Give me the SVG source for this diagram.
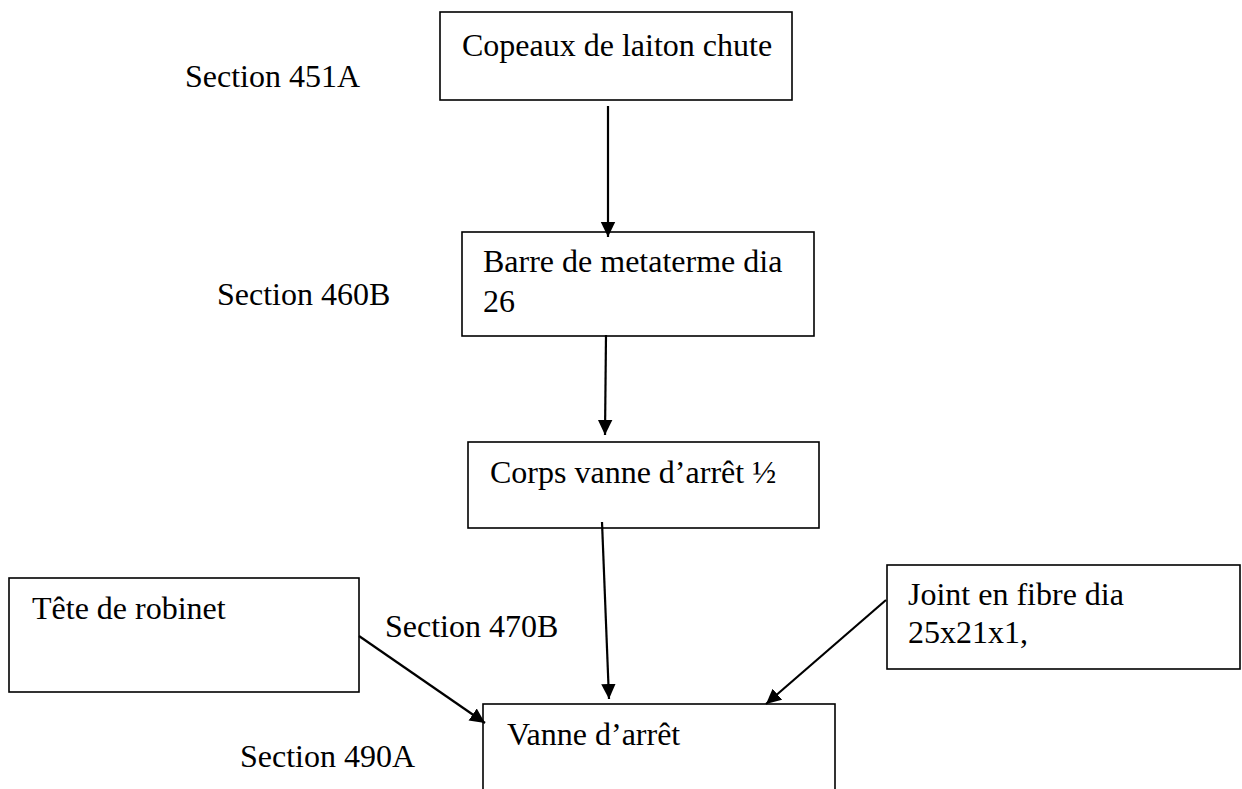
<svg xmlns="http://www.w3.org/2000/svg" width="1242" height="789" viewBox="0 0 1242 789">
  <style>
    .box { fill: #fff; stroke: #000; stroke-width: 1.6; }
    .lbl { font-family: "Liberation Serif", "Times New Roman", serif; font-size: 32px; fill: #000; }
    .conn { stroke: #000; stroke-width: 2.2; fill: none; marker-end: url(#arrow); }
  </style>
  <defs>
    <marker id="arrow" markerUnits="userSpaceOnUse" markerWidth="16" markerHeight="16" viewBox="0 0 16 16" refX="15" refY="8" orient="auto">
      <path d="M0,0.8 L15,8 L0,15.2 Z" fill="#000"/>
    </marker>
  </defs>
  <rect width="1242" height="789" fill="#fff"/>

  <!-- Section labels -->
  <g id="sections">
    <text class="lbl" x="185" y="87">Section 451A</text>
    <text class="lbl" x="217" y="305">Section 460B</text>
    <text class="lbl" x="385" y="637">Section 470B</text>
    <text class="lbl" x="240" y="767">Section 490A</text>
  </g>

  <!-- Nodes -->
  <g id="copeaux">
    <rect class="box" x="440" y="12" width="352" height="88"/>
    <text class="lbl" x="462" y="56">Copeaux de laiton chute</text>
  </g>
  <g id="barre">
    <rect class="box" x="462" y="232" width="352" height="104"/>
    <text class="lbl" x="483" y="272">Barre de metaterme dia</text>
    <text class="lbl" x="483" y="312">26</text>
  </g>
  <g id="corps">
    <rect class="box" x="468" y="442" width="351" height="86"/>
    <text class="lbl" x="490" y="483">Corps vanne d’arrêt ½</text>
  </g>
  <g id="tete">
    <rect class="box" x="9" y="578" width="350" height="114"/>
    <text class="lbl" x="32" y="619">Tête de robinet</text>
  </g>
  <g id="joint">
    <rect class="box" x="887" y="565" width="353" height="104"/>
    <text class="lbl" x="908" y="605">Joint en fibre dia</text>
    <text class="lbl" x="908" y="643">25x21x1,</text>
  </g>
  <g id="vanne">
    <rect class="box" x="483" y="704" width="352" height="100"/>
    <text class="lbl" x="507" y="745">Vanne d’arrêt</text>
  </g>

  <!-- Connectors -->
  <g id="connectors">
    <line class="conn" x1="608" y1="106" x2="608" y2="237"/>
    <line class="conn" x1="606" y1="335" x2="605" y2="435"/>
    <line class="conn" x1="602" y1="522" x2="609" y2="699"/>
    <line class="conn" x1="359" y1="636" x2="485" y2="723"/>
    <line class="conn" x1="886" y1="600" x2="766" y2="704"/>
  </g>
</svg>
